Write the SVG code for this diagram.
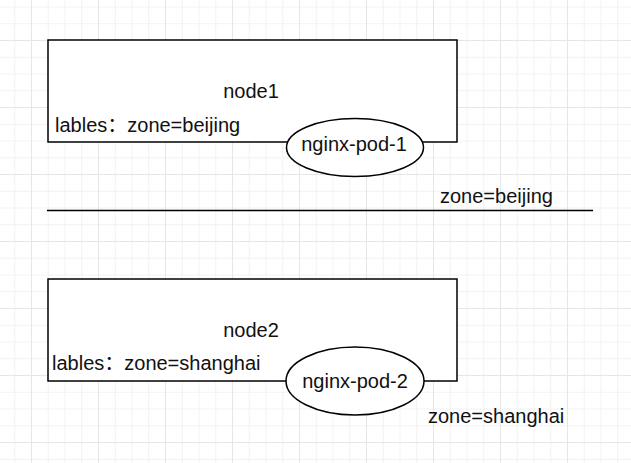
<svg xmlns="http://www.w3.org/2000/svg" width="631" height="463" viewBox="0 0 631 463">
<defs>
<pattern id="minor" x="-2.5" y="6.5" width="16.75" height="16.75" patternUnits="userSpaceOnUse">
<path d="M0 0.5H16.75M0.5 0V16.75" stroke="#f2f2f2" stroke-width="1" fill="none"/>
</pattern>
<pattern id="major" x="-36" y="-27" width="67" height="67" patternUnits="userSpaceOnUse">
<path d="M0 0.5H67M0.5 0V67" stroke="#e6e6e6" stroke-width="1" fill="none"/>
</pattern>
<style>
text{font-family:"Liberation Sans","Noto Sans CJK SC",Arial,sans-serif;font-size:20px;fill:#111}
.box{fill:none;stroke:#000;stroke-width:1.5}
.pod{fill:#fff;stroke:#000;stroke-width:1.5}
</style>
</defs>
<rect width="631" height="463" fill="#fff"/>
<rect width="631" height="463" fill="url(#minor)"/>
<rect width="631" height="463" fill="url(#major)"/>
<g id="node1">
<rect x="48" y="40" width="409" height="102" fill="#fff"/>
<path class="box" d="M290 142H48V40H457V142H420"/>
<text x="251" y="98" text-anchor="middle">node1</text>
<text x="55" y="132">lables：zone=beijing</text>
</g>
<g id="nginx-pod-1">
<ellipse class="pod" cx="355" cy="147.5" rx="68.5" ry="29"/>
<text x="354" y="151" text-anchor="middle">nginx-pod-1</text>
</g>
<g id="node2">
<rect x="48" y="279" width="409" height="102" fill="#fff"/>
<path class="box" d="M290 381H48V279H457V381H420"/>
<text x="251" y="337" text-anchor="middle">node2</text>
<text x="52" y="370">lables：zone=shanghai</text>
</g>
<g id="nginx-pod-2">
<ellipse class="pod" cx="355" cy="381" rx="69" ry="34"/>
<text x="355" y="388" text-anchor="middle">nginx-pod-2</text>
</g>
<g id="connectors">
<line x1="47" y1="210.5" x2="593" y2="210.5" stroke="#000" stroke-width="1.5"/>
</g>
<text x="440" y="203">zone=beijing</text>
<text x="428" y="423">zone=shanghai</text>
</svg>
